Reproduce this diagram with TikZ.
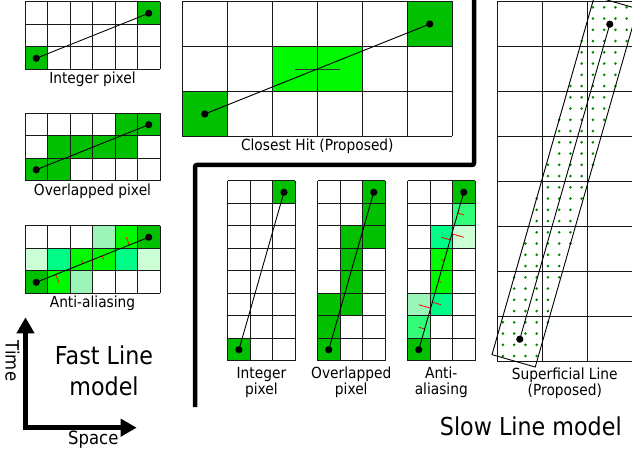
\documentclass[tikz,border=0pt]{standalone}
\usepackage{fontspec}
\setmainfont{DejaVu Sans}[FakeStretch=0.9]
\usetikzlibrary{calc,arrows.meta}
\definecolor{pxdark}{RGB}{0,192,0}
\definecolor{pxbright}{RGB}{0,248,0}
\definecolor{pxspring}{RGB}{0,252,135}
\definecolor{pxspringb}{RGB}{50,252,120}
\definecolor{pxlight}{RGB}{155,245,185}
\definecolor{pxvlight}{RGB}{205,255,215}
\definecolor{subgreen}{RGB}{0,135,0}
\tikzset{
  gridline/.style={line width=1pt, black!90},
  conn/.style={line width=0.9pt, black},
  hitmark/.style={line width=0.9pt, black!80},
  tick/.style={red, line width=0.8pt},
  lbl/.style={font=\fontsize{15.3}{17}\selectfont, anchor=base, inner sep=0pt},
  biglbl/.style={font=\fontsize{24.7}{30}\selectfont, anchor=base, inner sep=0pt},
  axislbl/.style={font=\fontsize{18.3}{20}\selectfont, inner sep=0pt},
  axisarrow/.style={line width=5pt, {Triangle[length=16pt,width=17pt]}-{Triangle[length=16pt,width=17pt]}},
  separator/.style={line width=4.5pt, rounded corners=2pt},
  subdot/.style={fill=subgreen},
  smallcell/.style={x=22.5pt, y=-22.5pt},
  bigcell/.style={x=45pt, y=-45pt},
}
\newcommand\drawpixgrid[2]{%
  \foreach \gc in {0,...,#1} {\draw[gridline] (\gc,0) -- (\gc,#2);}
  \foreach \gr in {0,...,#2} {\draw[gridline] (0,\gr) -- (#1,\gr);}
}
\newcommand\px[3]{\fill[#3] (#1,#2) rectangle ++(1,1);}
\newcommand\pixdots[2]{\fill (#1) circle[radius=3.6pt]; \fill (#2) circle[radius=3.6pt];}
\begin{document}
\begin{tikzpicture}[x=1pt, y=-1pt]
\useasboundingbox (0,0) rectangle (632,454);

% ---------- Fast model: Integer pixel ----------
\begin{scope}[shift={(25,2)}, smallcell]
  \px{5}{0}{pxdark} \px{0}{2}{pxdark}
  \drawpixgrid{6}{3}
  \coordinate (fi1) at (0.5,2.5);
  \coordinate (fi2) at (5.5,0.5);
  \draw[conn] (fi1) -- (fi2);
  \pixdots{fi1}{fi2}
\end{scope}
\node[lbl] (lfi) at (92.5,83.3) {Integer pixel};

% ---------- Fast model: Overlapped pixel ----------
\begin{scope}[shift={(25,113.5)}, smallcell]
  \px{4}{0}{pxdark} \px{5}{0}{pxdark}
  \px{1}{1}{pxdark} \px{2}{1}{pxdark} \px{3}{1}{pxdark} \px{4}{1}{pxdark}
  \px{0}{2}{pxdark} \px{1}{2}{pxdark}
  \drawpixgrid{6}{3}
  \coordinate (fo1) at (0.5,2.5);
  \coordinate (fo2) at (5.5,0.5);
  \draw[conn] (fo1) -- (fo2);
  \pixdots{fo1}{fo2}
\end{scope}
\node[lbl] (lfo) at (92.5,196) {Overlapped pixel};

% ---------- Fast model: Anti-aliasing ----------
\begin{scope}[shift={(25,226)}, smallcell]
  \px{3}{0}{pxlight} \px{4}{0}{pxbright} \px{5}{0}{pxdark}
  \px{0}{1}{pxvlight} \px{1}{1}{pxspring} \px{2}{1}{pxbright} \px{3}{1}{pxbright} \px{4}{1}{pxspring} \px{5}{1}{pxvlight}
  \px{0}{2}{pxdark} \px{1}{2}{pxbright} \px{2}{2}{pxlight}
  \drawpixgrid{6}{3}
  \coordinate (fa1) at (0.5,2.5);
  \coordinate (fa2) at (5.5,0.5);
  \foreach \tc/\tr in {4/0, 2/1, 3/1, 1/2}
    {\draw[tick] (\tc+0.5,\tr+0.5) -- ($(fa1)!(\tc+0.5,\tr+0.5)!(fa2)$);}
  \draw[conn] (fa1) -- (fa2);
  \pixdots{fa1}{fa2}
\end{scope}
\node[lbl] (lfa) at (92.5,308) {Anti-aliasing};

% ---------- Closest Hit ----------
\begin{scope}[shift={(182.3,1.5)}, bigcell]
  \px{5}{0}{pxdark} \px{2}{1}{pxbright} \px{3}{1}{pxbright} \px{0}{2}{pxdark}
  \drawpixgrid{6}{3}
  \coordinate (ch1) at (0.5,2.5);
  \coordinate (ch2) at (5.5,0.5);
  \coordinate (hm1) at (2.5,1.5);
  \coordinate (hm2) at (3.5,1.5);
  \draw[hitmark] (hm1) -- (hm2);
  \draw[conn] (ch1) -- (ch2);
  \pixdots{ch1}{ch2}
\end{scope}
\node[lbl] (lch) at (317.3,151) {Closest Hit (Proposed)};

% ---------- Separator ----------
\coordinate (s1) at (474,-4);
\coordinate (s2) at (474,165);
\coordinate (s3) at (195,165);
\coordinate (s4) at (195,407);
\draw[separator] (s1) -- (s2) -- (s3) -- (s4);

% ---------- Slow model: Integer pixel ----------
\begin{scope}[shift={(227.7,181)}, smallcell]
  \px{2}{0}{pxdark} \px{0}{7}{pxdark}
  \drawpixgrid{3}{8}
  \coordinate (si1) at (0.5,7.5);
  \coordinate (si2) at (2.5,0.5);
  \draw[conn] (si1) -- (si2);
  \pixdots{si1}{si2}
\end{scope}
\node[lbl] (lsi1) at (261.45,378) {Integer};
\node[lbl] (lsi2) at (261.45,394) {pixel};

% ---------- Slow model: Overlapped pixel ----------
\begin{scope}[shift={(317.5,181)}, smallcell]
  \foreach \pc/\pr in {2/0, 2/1, 1/2, 2/2, 1/3, 1/4, 0/5, 1/5, 0/6, 0/7}
    {\px{\pc}{\pr}{pxdark}}
  \drawpixgrid{3}{8}
  \coordinate (so1) at (0.5,7.5);
  \coordinate (so2) at (2.5,0.5);
  \draw[conn] (so1) -- (so2);
  \pixdots{so1}{so2}
\end{scope}
\node[lbl] (lso1) at (351.25,378) {Overlapped};
\node[lbl] (lso2) at (351.25,394) {pixel};

% ---------- Slow model: Anti-aliasing ----------
\begin{scope}[shift={(407.5,181)}, smallcell]
  \px{2}{0}{pxdark} \px{2}{1}{pxspringb} \px{1}{2}{pxspring} \px{2}{2}{pxvlight}
  \px{1}{3}{pxbright} \px{1}{4}{pxbright} \px{0}{5}{pxlight} \px{1}{5}{pxspring}
  \px{0}{6}{pxspringb} \px{0}{7}{pxdark}
  \drawpixgrid{3}{8}
  \coordinate (sa1) at (0.5,7.5);
  \coordinate (sa2) at (2.5,0.5);
  \foreach \tc/\tr in {2/1, 1/2, 2/2, 1/3, 1/4, 0/5, 1/5, 0/6}
    {\draw[tick] (\tc+0.5,\tr+0.5) -- ($(sa1)!(\tc+0.5,\tr+0.5)!(sa2)$);}
  \draw[conn] (sa1) -- (sa2);
  \pixdots{sa1}{sa2}
\end{scope}
\node[lbl] (lsa1) at (441.25,378) {Anti-};
\node[lbl] (lsa2) at (441.25,394) {aliasing};

% ---------- Superficial Line ----------
\begin{scope}[shift={(497.3,1.7)}, bigcell]
  \drawpixgrid{3}{8}
  \foreach \i in {0,...,11}{
    \foreach \j in {0,...,31}{
      \pgfmathtruncatemacro\ins{and(abs(((\i+0.5)/4-1.5)*0.27472-((\j+0.5)/4-4)*0.96152)<=4.141, abs(((\i+0.5)/4-1.5)*0.96152+((\j+0.5)/4-4)*0.27472)<=0.5)}
      \ifnum\ins=1 \fill[subdot] ({(\i+0.5)/4},{(\j+0.5)/4}) circle[radius=1.45pt];\fi
    }
  }
  \coordinate (sp1) at (0.5,7.5);
  \coordinate (sp2) at (2.5,0.5);
  \coordinate (se1) at ($(sp1)!-22.5pt!(sp2)$);
  \coordinate (se2) at ($(sp2)!-22.5pt!(sp1)$);
  \coordinate (sc1) at ($(se1)!22.5pt!90:(se2)$);
  \coordinate (sc2) at ($(se1)!22.5pt!-90:(se2)$);
  \coordinate (sc3) at ($(se2)!22.5pt!90:(se1)$);
  \coordinate (sc4) at ($(se2)!22.5pt!-90:(se1)$);
  \draw[conn] (sc1) -- (sc4) -- (sc3) -- (sc2) -- cycle;
  \draw[conn] (sp1) -- (sp2);
  \pixdots{sp1}{sp2}
\end{scope}
\node[lbl] (lsp1) at (564.8,379) {Superficial Line};
\node[lbl] (lsp2) at (564.8,395.7) {(Proposed)};

% ---------- Model titles ----------
\node[biglbl] (fast1) at (104,365) {Fast Line};
\node[biglbl] (fast2) at (104,395) {model};
\node[biglbl] (slow) at (530.8,435.7) {Slow Line model};

% ---------- Axes ----------
\coordinate (ax1) at (25.5,317.3);
\coordinate (ax0) at (25.5,427.7);
\coordinate (ax2) at (136.7,427.7);
\draw[axisarrow] (ax1) -- (ax0) -- (ax2);
\node[axislbl, rotate=-90] (time) at (12.5,361) {Time};
\node[axislbl, anchor=base] (space) at (93.3,444) {Space};
\end{tikzpicture}
\end{document}
